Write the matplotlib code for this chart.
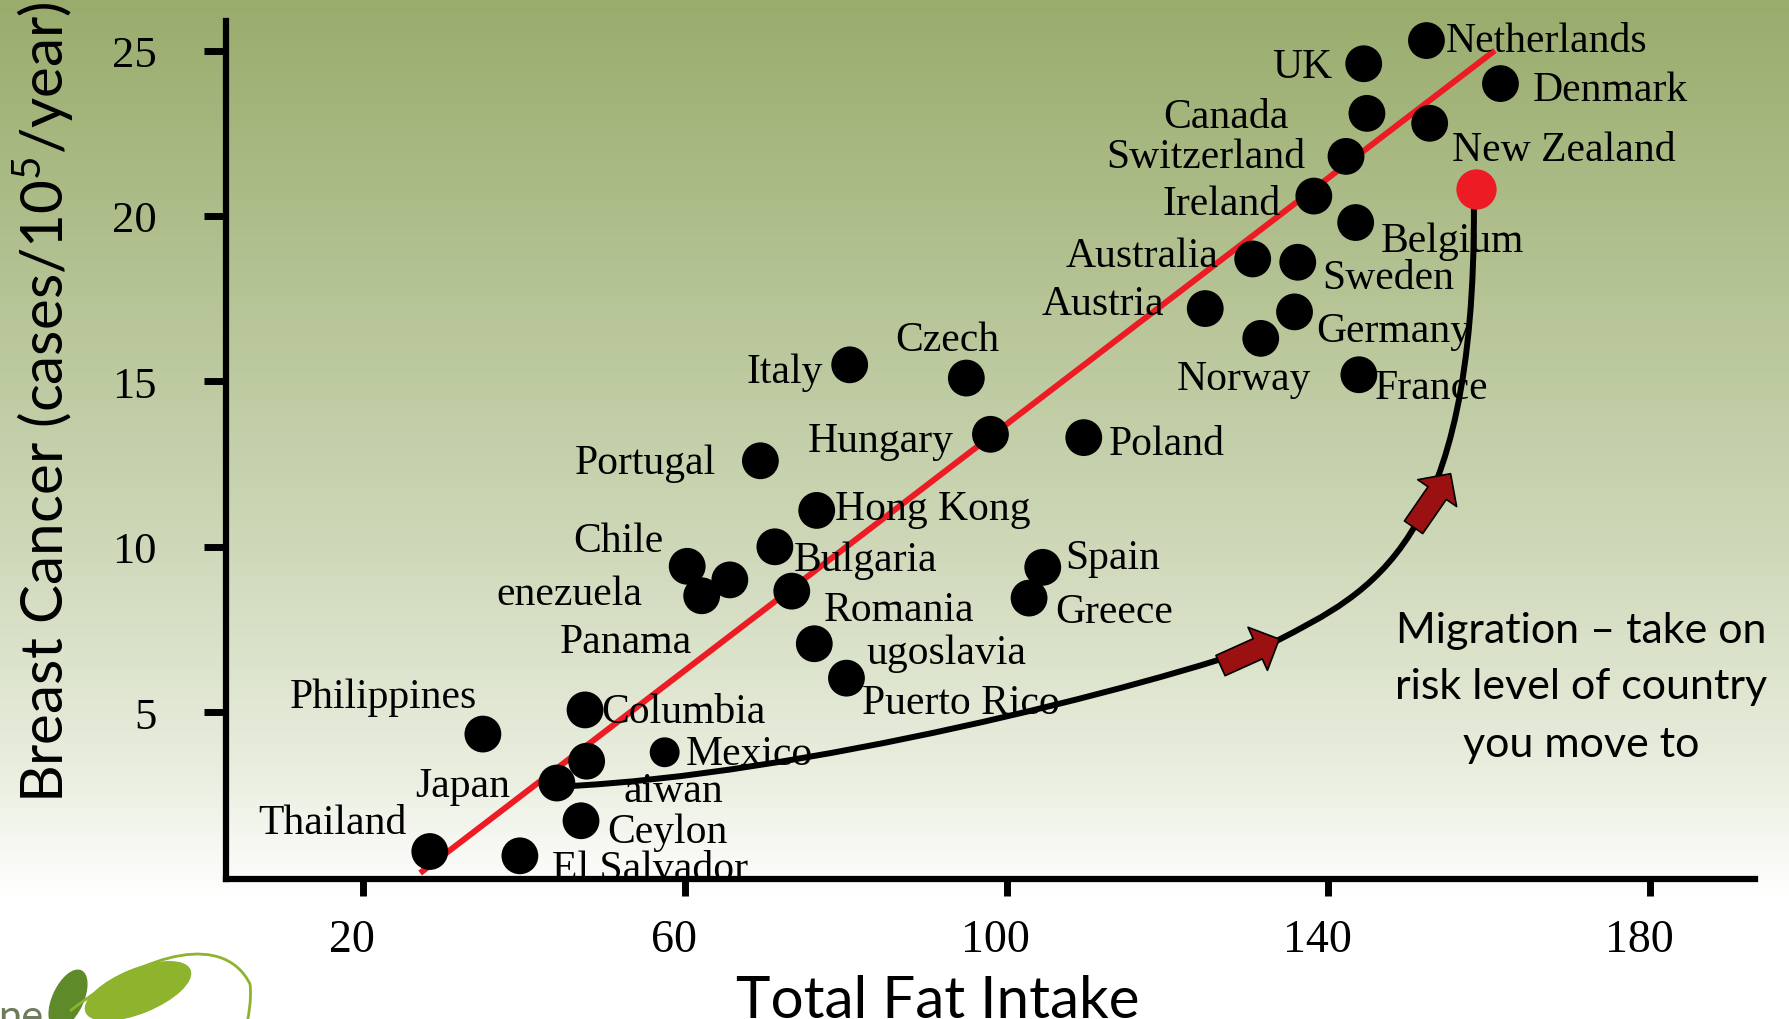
import numpy as np
import matplotlib.pyplot as plt
import matplotlib.transforms as mtransforms
from matplotlib.patches import PathPatch, FancyArrowPatch, Ellipse
from matplotlib.path import Path

# data
countries = ['Thailand', 'El Salvador', 'Japan', 'Philippines', 'Columbia', 'Taiwan',
             'Ceylon', 'Mexico', 'Chile', 'Venezuela', 'Panama', 'Bulgaria', 'Romania',
             'Hong Kong', 'Portugal', 'Yugoslavia', 'Puerto Rico', 'Italy', 'Czech',
             'Hungary', 'Poland', 'Spain', 'Greece', 'Austria', 'Norway', 'Germany',
             'France', 'Australia', 'Sweden', 'Belgium', 'Ireland', 'Switzerland',
             'Canada', 'UK', 'Netherlands', 'Denmark', 'New Zealand']
# label text exactly as printed on the slide (some are clipped there)
shown_names = ['Thailand', 'El Salvador', 'Japan', 'Philippines', 'Columbia', 'aiwan',
               'Ceylon', 'Mexico', 'Chile', 'enezuela', 'Panama', 'Bulgaria', 'Romania',
               'Hong Kong', 'Portugal', 'ugoslavia', 'Puerto Rico', 'Italy', 'Czech',
               'Hungary', 'Poland', 'Spain', 'Greece', 'Austria', 'Norway', 'Germany',
               'France', 'Australia', 'Sweden', 'Belgium', 'Ireland', 'Switzerland',
               'Canada', 'UK', 'Netherlands', 'Denmark', 'New Zealand']
fat_intake = [28.3, 39.5, 44.1, 34.9, 47.6, 47.8, 47.1, 57.5, 60.3, 62.1, 65.6, 71.2,
              73.3, 76.4, 69.4, 76.1, 80.1, 80.5, 95.0, 98.0, 109.6, 104.5, 102.8,
              124.7, 131.6, 135.8, 143.8, 130.6, 136.2, 143.4, 138.2, 142.2, 144.8,
              144.4, 152.2, 161.4, 152.6]
cancer_rate = [0.79, 0.66, 2.86, 4.34, 5.07, 3.52, 1.72, 3.79, 9.41, 8.52, 9.0, 10.0,
               8.66, 11.1, 12.6, 7.07, 6.03, 15.5, 15.1, 13.4, 13.3, 9.38, 8.45,
               17.2, 16.3, 17.1, 15.2, 18.7, 18.6, 19.8, 20.6, 21.8, 23.1,
               24.6, 25.3, 24.0, 22.8]

migrant_x = [158.3]
migrant_y = [20.8]

trend_x = [27.1, 160.7]
trend_y = [0.14, 25.0]

x_ticks = [20, 60, 100, 140, 180]
y_ticks = [5, 10, 15, 20, 25]

# migration path: start near Japan, two cubic segments up to the red dot
path_x = [45.0, 74.2, 116.7, 133.7, 145.1, 158.3, 158.1]
path_y = [2.76, 3.10, 5.69, 7.17, 8.62, 10.0, 20.34]
arrow_tail = [(126.6, 6.41), (150.6, 10.59)]
arrow_tip = [(133.9, 7.21), (155.2, 12.21)]

# label placement (pixel offsets from the dot, alignment)
label_offsets = {
    'Thailand': (-23, 29, 'right'), 'El Salvador': (32, -13, 'left'),
    'Japan': (-47, -3, 'right'), 'Philippines': (-6, 37, 'right'),
    'Columbia': (16, -2, 'left'), 'Taiwan': (37, -30, 'left'),
    'Ceylon': (26, -11, 'left'), 'Mexico': (21, -1, 'left'),
    'Chile': (-24, 26, 'right'), 'Venezuela': (-59, 2, 'right'),
    'Panama': (-38, -62, 'right'), 'Bulgaria': (19, -13, 'left'),
    'Romania': (32, -19, 'left'), 'Hong Kong': (18, 2, 'left'),
    'Portugal': (-44, -2, 'right'), 'Yugoslavia': (52, -9, 'left'),
    'Puerto Rico': (16, -25, 'left'), 'Italy': (-27, -7, 'right'),
    'Czech': (-19, 38, 'center'), 'Hungary': (-37, -6, 'right'),
    'Poland': (25, -6, 'left'), 'Spain': (23, 10, 'left'),
    'Greece': (26, -14, 'left'), 'Austria': (-41, 5, 'right'),
    'Norway': (-17, -40, 'center'), 'Germany': (22, -19, 'left'),
    'France': (16, -13, 'left'), 'Australia': (-34, 3, 'right'),
    'Sweden': (25, -15, 'left'), 'Belgium': (25, -18, 'left'),
    'Ireland': (-33, -8, 'right'), 'Switzerland': (-41, 0, 'right'),
    'Canada': (-78, -3, 'right'), 'UK': (-32, -3, 'right'),
    'Netherlands': (19, 0, 'left'), 'Denmark': (32, -6, 'left'),
    'New Zealand': (22, -26, 'left'),
}

W, H = 1789, 1020
serif = 'Liberation Serif'
sans = 'Lato'
plt.rcParams['mathtext.fontset'] = 'custom'
plt.rcParams['mathtext.rm'] = sans

fig = plt.figure(figsize=(W / 100, H / 100), dpi=100)

# slide background: olive gradient fading to white
bg = fig.add_axes([0, 0, 1, 1])
bg.set_xlim(0, W)
bg.set_ylim(H, 0)
bg.axis('off')
stops = [0.0, 0.5, 0.75, 0.88, 1.0]
reds = [153, 202, 232, 255, 255]
greens = [172, 213, 237, 255, 255]
blues = [108, 179, 221, 255, 255]
rows = np.linspace(0, 1, H)
grad = np.stack([np.interp(rows, stops, reds), np.interp(rows, stops, greens),
                 np.interp(rows, stops, blues)], axis=-1) / 255
grad = np.repeat(grad[:, None, :], 4, axis=1)
bg.imshow(grad, extent=(0, W, H, 0), aspect='auto', zorder=0)

# partial logo in the corner
bg.add_patch(Ellipse((138, 992), 112, 44, angle=-22, color='#8db42c', zorder=1))
bg.add_patch(Ellipse((68, 1000), 30, 62, angle=25, color='#5f8a2a', zorder=1))
logo_arc = Path([(70, 1012), (150, 950), (225, 935), (250, 985), (252, 1000), (248, 1020), (246, 1030)],
                [Path.MOVETO, Path.CURVE4, Path.CURVE4, Path.CURVE4, Path.CURVE4, Path.CURVE4, Path.CURVE4])
bg.add_patch(PathPatch(logo_arc, fill=False, ec='#8db42c', lw=2, zorder=1))
bg.text(-2, 1030, 'ne', fontsize=30, color='#6e7b5a', family=sans, va='baseline', zorder=1)

# main plot
ax = fig.add_axes([0.1263, 0.1376, 0.8545, 0.8411])
ax.set_facecolor('none')
ax.set_xlim(2.96, 193.0)
ax.set_ylim(-0.03, 25.9)
for side in ['top', 'right']:
    ax.spines[side].set_visible(False)
for side in ['left', 'bottom']:
    ax.spines[side].set_linewidth(4.5)
    ax.spines[side].set_color('black')
ax.set_xticks(x_ticks)
ax.set_yticks(y_ticks)
ax.tick_params(axis='y', direction='out', length=16, width=5, pad=34, labelsize=32)
ax.tick_params(axis='x', direction='out', length=12, width=5, pad=17, labelsize=33)
shift = mtransforms.ScaledTranslation(-0.11, 0, fig.dpi_scale_trans)
for lab in ax.get_xticklabels():
    lab.set_family(serif)
    lab.set_transform(lab.get_transform() + shift)
for lab in ax.get_yticklabels():
    lab.set_family(serif)

ax.plot(trend_x, trend_y, color='#ed1c24', lw=4.3, zorder=2, solid_capstyle='butt')

sizes = [21.5 ** 2 if c == 'Mexico' else 26.5 ** 2 for c in countries]
ax.scatter(fat_intake, cancer_rate, s=sizes, color='black', lw=0, zorder=4)

for name, shown, x, y in zip(countries, shown_names, fat_intake, cancer_rate):
    dx, dy, ha = label_offsets[name]
    ax.annotate(shown, (x, y), xytext=(dx, dy), textcoords='offset pixels',
                ha=ha, va='center', fontsize=30, family=serif, zorder=3)

codes = [Path.MOVETO] + [Path.CURVE4] * 6
curve = Path(list(zip(path_x, path_y)), codes)
ax.add_patch(PathPatch(curve, fill=False, ec='black', lw=4.3, zorder=5, capstyle='butt'))

for tail, tip in zip(arrow_tail, arrow_tip):
    ax.add_patch(FancyArrowPatch(tail, tip, arrowstyle='simple,head_length=17,head_width=34,tail_width=16',
                                 mutation_scale=1, fc='#9b1111', ec='black', lw=1.2,
                                 shrinkA=0, shrinkB=0, zorder=6))

ax.scatter(migrant_x, migrant_y, s=29 ** 2, color='#ed1c24', lw=0, zorder=6)

# axis titles
fig.text(0.024, 0.606, r'Breast Cancer (cases/10$^5$/year)', rotation=90, ha='center',
         va='center', fontsize=42, family=sans)
fig.text(0.524, 0.002, 'Total Fat Intake', ha='center', va='baseline', fontsize=42, family=sans)

# migration note
note_lines = ['Migration \u2013 take on', 'risk level of country', 'you move to']
note_y = [0.3814, 0.3265, 0.2696]
for line, yy in zip(note_lines, note_y):
    fig.text(0.884, yy, line, ha='center', va='center', fontsize=31, family=sans)

fig.savefig('out.png', dpi=100)
